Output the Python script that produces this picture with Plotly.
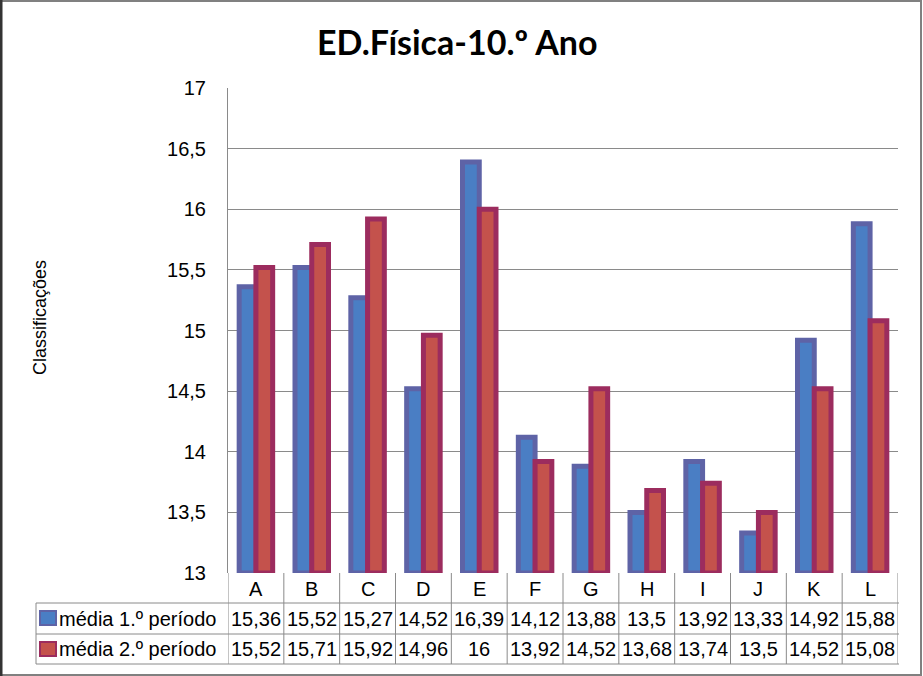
import plotly.graph_objects as go

categories = ["A", "B", "C", "D", "E", "F", "G", "H", "I", "J", "K", "L"]
series_names = ["média 1.º período", "média 2.º período"]
periodo1 = [15.36, 15.52, 15.27, 14.52, 16.39, 14.12, 13.88, 13.5, 13.92, 13.33, 14.92, 15.88]
periodo2 = [15.52, 15.71, 15.92, 14.96, 16, 13.92, 14.52, 13.68, 13.74, 13.5, 14.52, 15.08]
y_ticks = [13, 13.5, 14, 14.5, 15, 15.5, 16, 16.5, 17]

W, H = 923, 676
L, R, T, B = 228, 25, 88, 103
PW, PH = W - L - R, H - T - B

def px(x):
    return (x - L) / PW

def py(y):
    return (H - B - y) / PH

fills = ["#4A7EC4", "#C4524C"]
borders = ["#5E63A6", "#9C2C5E"]
font = "Liberation Sans, Arial, sans-serif"
grid = "#8A8A8A"

fig = go.Figure()
for name, vals, fc, bc in zip(series_names, [periodo1, periodo2], fills, borders):
    fig.add_trace(go.Bar(
        x=categories, y=[v - 13 for v in vals], base=13, name=name,
        marker=dict(color=fc, line=dict(color=bc, width=5)),
        hoverinfo="skip",
    ))

shapes = []
annotations = []

# outer chart border
shapes.append(dict(type="rect", xref="paper", yref="paper",
                   x0=px(1), x1=px(921), y0=py(675), y1=py(1),
                   line=dict(color="#808080", width=2)))
shapes.append(dict(type="line", xref="paper", yref="paper",
                   x0=px(1), x1=px(1), y0=py(676), y1=py(0),
                   line=dict(color="#333333", width=3)))

# data table grid
row_y = [573, 603, 634, 664]
for yy in row_y[1:]:
    shapes.append(dict(type="line", xref="paper", yref="paper",
                       x0=px(36), x1=px(899), y0=py(yy), y1=py(yy),
                       line=dict(color=grid, width=1)))
n = len(categories)
for k in range(n + 1):
    shapes.append(dict(type="line", xref="x", yref="paper",
                       x0=k - 0.5, x1=k - 0.5, y0=py(573), y1=py(664),
                       line=dict(color=grid, width=1)))
shapes.append(dict(type="line", xref="paper", yref="paper",
                   x0=px(36), x1=px(36), y0=py(603), y1=py(664),
                   line=dict(color=grid, width=1)))

# category labels
for c in categories:
    annotations.append(dict(x=c, y=py(589), xref="x", yref="paper",
                            text=c, showarrow=False, xanchor="center", yanchor="middle",
                            font=dict(family=font, size=20, color="#000000")))

def fmt(v):
    return f"{v:g}".replace(".", ",")

row_centers = [619, 649]
key_tops = [610, 641]
for name, vals, fc, bc, yc, kt in zip(series_names, [periodo1, periodo2], fills, borders, row_centers, key_tops):
    for c, v in zip(categories, vals):
        annotations.append(dict(x=c, y=py(yc), xref="x", yref="paper",
                                text=fmt(v), showarrow=False,
                                xanchor="center", yanchor="middle",
                                font=dict(family=font, size=20, color="#000000")))
    annotations.append(dict(x=px(57), y=py(yc), xref="paper", yref="paper",
                            text=name, showarrow=False, xanchor="left", yanchor="middle",
                            font=dict(family=font, size=20, color="#000000")))
    shapes.append(dict(type="rect", xref="paper", yref="paper",
                       x0=px(40), x1=px(56), y0=py(kt + 15), y1=py(kt + 1),
                       fillcolor=fc, line=dict(color=bc, width=2)))

# y-axis title
annotations.append(dict(x=px(40), y=py(318), xref="paper", yref="paper",
                        text="Classificações", textangle=-90, showarrow=False,
                        xanchor="center", yanchor="middle",
                        font=dict(family=font, size=18, color="#000000")))
# chart title
annotations.append(dict(x=px(457), y=py(42), xref="paper", yref="paper",
                        text="<b>ED.Física-10.º Ano</b>", showarrow=False,
                        xanchor="center", yanchor="middle",
                        font=dict(family="Lato, sans-serif", size=34, color="#000000")))

fig.update_layout(
    width=W, height=H,
    margin=dict(l=L, r=R, t=T, b=B),
    paper_bgcolor="white", plot_bgcolor="white",
    separators=",.",
    barmode="group", bargap=0.4, bargroupgap=0.0,
    showlegend=False,
    shapes=shapes, annotations=annotations,
    xaxis=dict(type="category", categoryorder="array", categoryarray=categories,
               range=[-0.5, n - 0.5], showticklabels=False, showgrid=False,
               zeroline=False, showline=False, fixedrange=True),
    yaxis=dict(range=[13, 17], tickvals=y_ticks, showgrid=True, gridcolor=grid,
               gridwidth=1, zeroline=False, showline=True, linecolor=grid,
               linewidth=1, ticks="", ticklabelstandoff=17,
               tickfont=dict(family=font, size=20, color="#000000")),
)

fig.write_html("out.html")
